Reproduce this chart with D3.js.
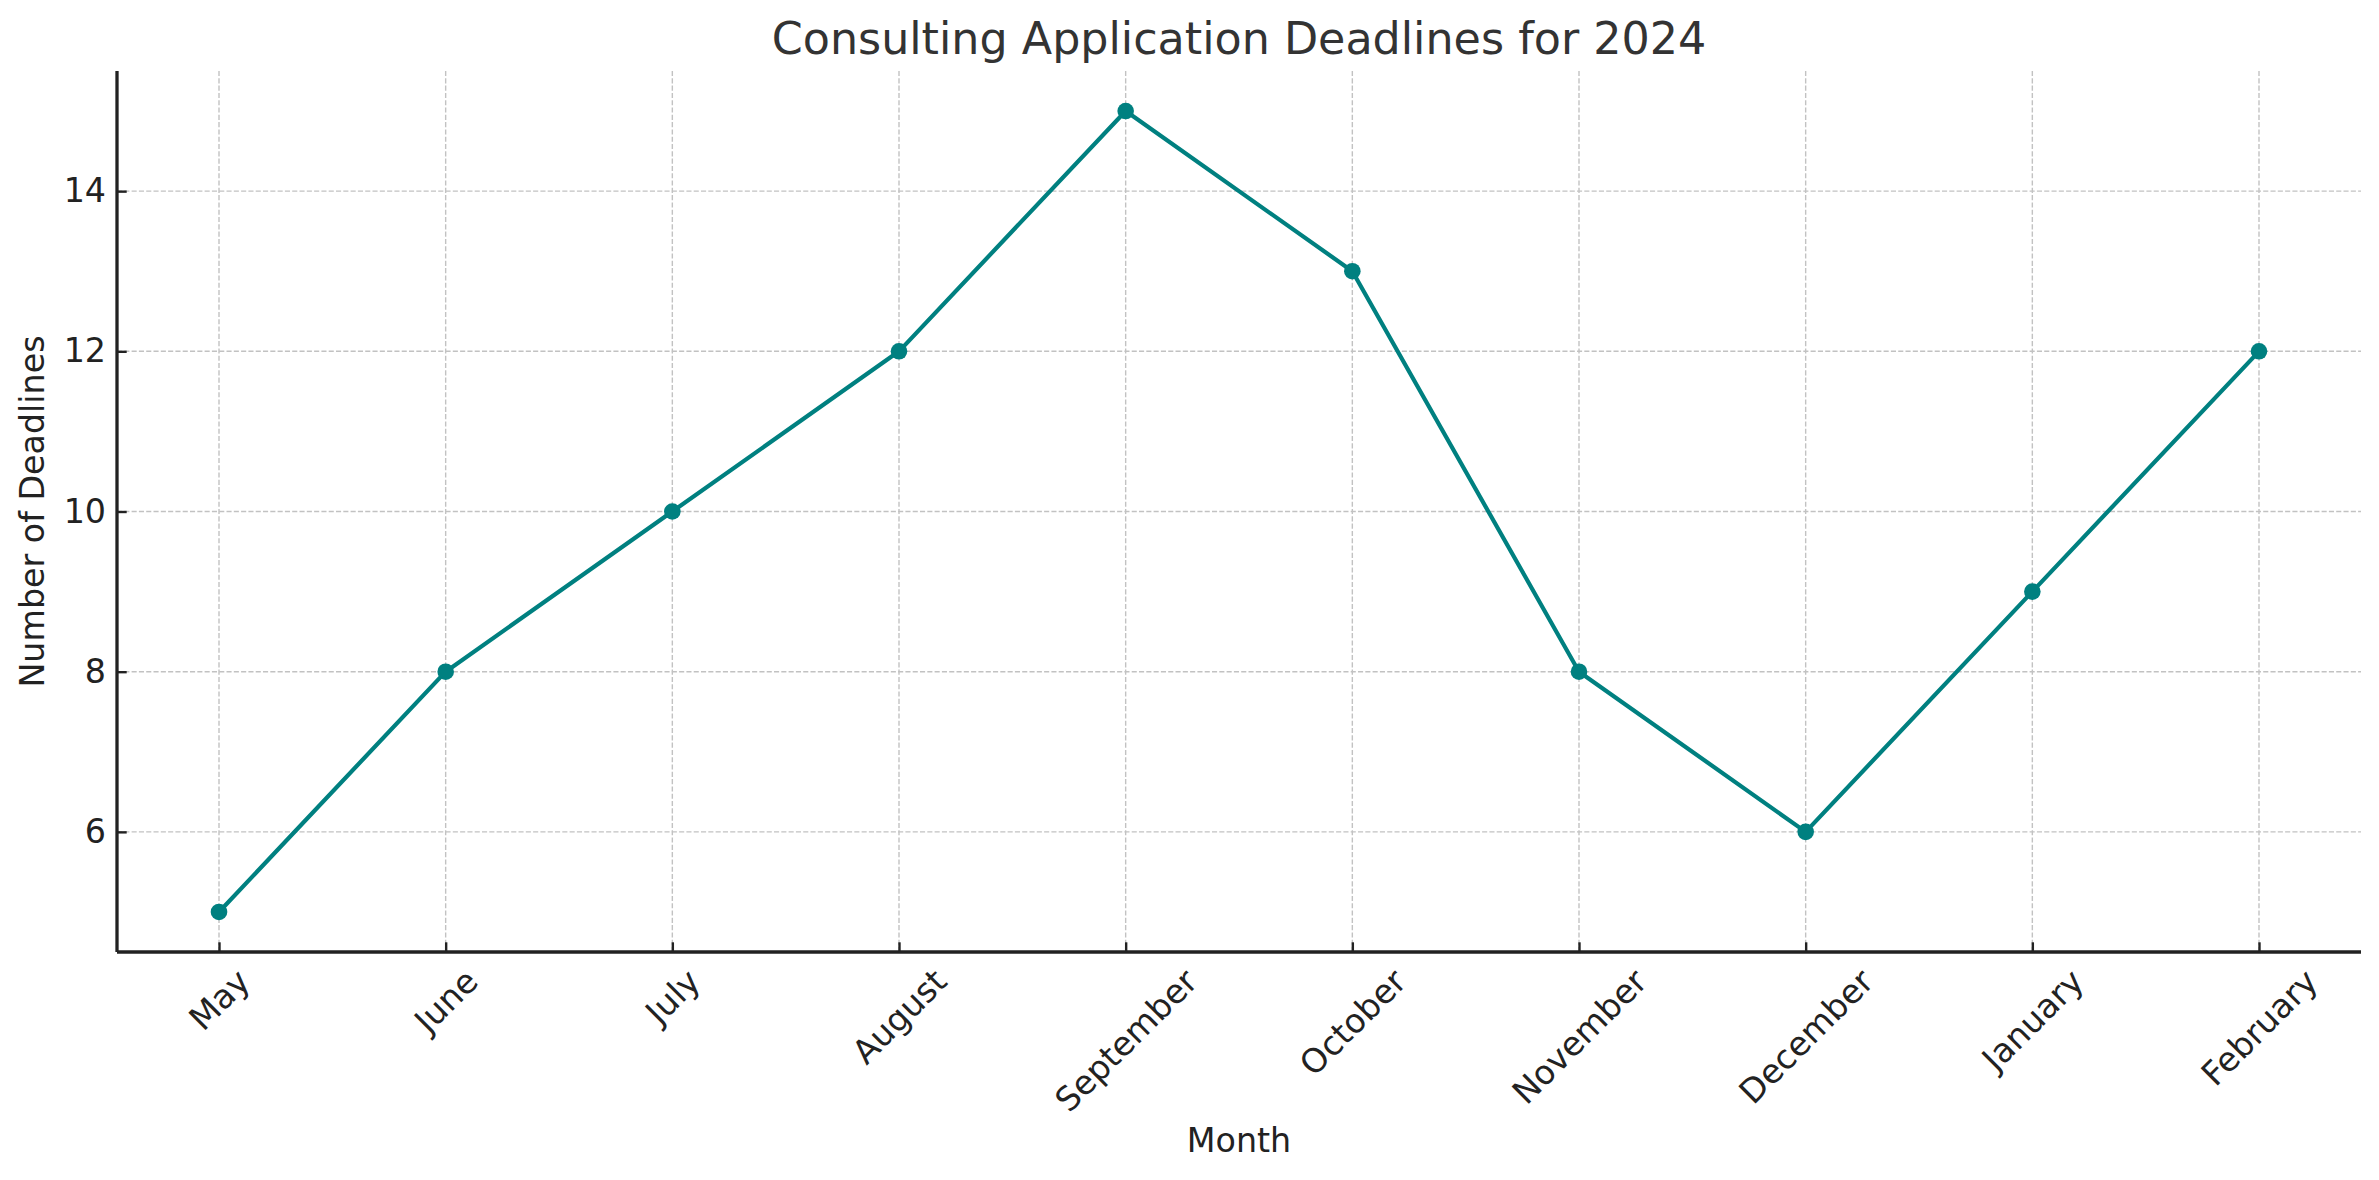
<!DOCTYPE html>
<html><head><meta charset="utf-8">
<script src="https://cdn.jsdelivr.net/npm/d3@7"></script>
<style>html,body{margin:0;padding:0;background:#fff;}svg{display:block;font-family:"DejaVu Sans",sans-serif;}</style>
</head><body>
<svg id="c" width="2379" height="1180"></svg>
<script>
const months = ["May","June","July","August","September","October","November","December","January","February"];
const deadlines = [5,8,10,12,15,13,8,6,9,12];
const yTicks = [6,8,10,12,14];
const titleText = "Consulting Application Deadlines for 2024";
const xLabel = "Month";
const yLabel = "Number of Deadlines";

const W = 2379, H = 1180;
const m = {left:117, right:2361, top:71, bottom:952};
const svg = d3.select("#c");
const x = d3.scaleLinear().domain([-0.45, months.length - 1 + 0.45]).range([m.left, m.right]);
const y = d3.scaleLinear().domain([4.5, 15.5]).range([m.bottom, m.top]);

const gridColor = "#c2c2c2";
const g = svg.append("g");
// grid
g.selectAll(".vg").data(months).enter().append("line")
  .attr("x1",(d,i)=>x(i)).attr("x2",(d,i)=>x(i)).attr("y1",m.top).attr("y2",m.bottom)
  .attr("stroke",gridColor).attr("stroke-width",1.4).attr("stroke-dasharray","5.1,2.2");
g.selectAll(".hg").data(yTicks).enter().append("line")
  .attr("x1",m.left).attr("x2",m.right).attr("y1",d=>y(d)).attr("y2",d=>y(d))
  .attr("stroke",gridColor).attr("stroke-width",1.4).attr("stroke-dasharray","5.1,2.2");

// y axis (ticks pointing inward)
const yAxis = d3.axisLeft(y).tickValues(yTicks).tickSize(-9.7).tickPadding(0).tickSizeOuter(0);
const ya = svg.append("g").attr("transform",`translate(${m.left},0)`).call(yAxis);
ya.select(".domain").attr("stroke","#222").attr("stroke-width",3.3).attr("d",`M0,${m.top}V${m.bottom}`);
ya.selectAll(".tick line").attr("stroke","#222").attr("stroke-width",2.4);
ya.selectAll(".tick text").attr("font-size",33.3).attr("fill","#222").attr("font-family","DejaVu Sans")
  .attr("x",-11).attr("text-anchor","end");

// x axis (ticks pointing inward)
const xAxis = d3.axisBottom(x).tickValues(d3.range(months.length)).tickFormat(i=>months[i]).tickSize(-9.7).tickSizeOuter(0);
const xa = svg.append("g").attr("transform",`translate(0,${m.bottom})`).call(xAxis);
xa.select(".domain").attr("stroke","#222").attr("stroke-width",3.3).attr("d",`M${m.left},0H${m.right}`);
xa.selectAll(".tick line").attr("stroke","#222").attr("stroke-width",2.4);
const fs = 33.3, th = fs*1.164;
xa.selectAll(".tick text").each(function(){
  const t = d3.select(this);
  t.attr("font-size",fs).attr("fill","#222").attr("font-family","DejaVu Sans")
   .attr("text-anchor","middle").attr("dy",null).attr("y",null).attr("dominant-baseline","central");
  const w = this.getComputedTextLength();
  const c = 9.7 + (w + th)/(2*Math.SQRT2);
  t.attr("transform",`translate(0,${c}) rotate(-45)`);
});

// line
const line = d3.line().x((d,i)=>x(i)).y(d=>y(d));
svg.append("path").datum(deadlines).attr("d",line).attr("fill","none")
  .attr("stroke","#008080").attr("stroke-width",4.2).attr("stroke-linejoin","round");
svg.selectAll(".pt").data(deadlines).enter().append("circle")
  .attr("cx",(d,i)=>x(i)).attr("cy",d=>y(d)).attr("r",8.3).attr("fill","#008080");

// title & labels
svg.append("text").attr("x",(m.left+m.right)/2).attr("y",54).attr("text-anchor","middle")
  .attr("font-size",44.4).attr("fill","#333").text(titleText);
svg.append("text").attr("x",(m.left+m.right)/2).attr("y",1152).attr("text-anchor","middle")
  .attr("font-size",33.3).attr("fill","#222").text(xLabel);
svg.append("text").attr("transform",`translate(44,${(m.top+m.bottom)/2}) rotate(-90)`).attr("text-anchor","middle")
  .attr("font-size",33.3).attr("fill","#222").text(yLabel);
</script>
</body></html>
